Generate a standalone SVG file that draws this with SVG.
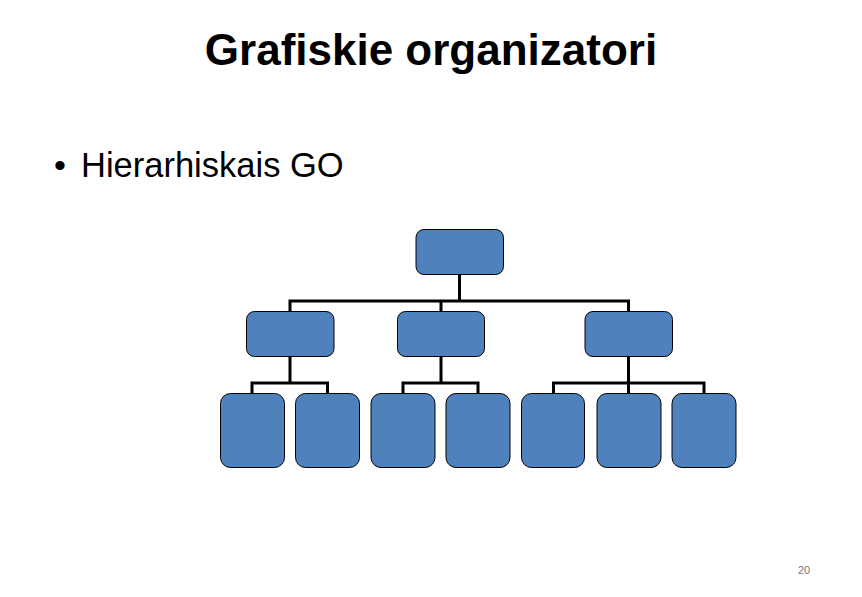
<svg xmlns="http://www.w3.org/2000/svg" width="862" height="597" viewBox="0 0 862 597">
<style>
.n{fill:#4F81BD;stroke:#000;stroke-width:1}
.c{fill:none;stroke:#000;stroke-width:3;stroke-linecap:square}
.t{font-family:"Liberation Sans",Arial,sans-serif;fill:#000}
</style>
<rect width="862" height="597" fill="#fff"/>
<text class="t" x="431" y="65" font-size="44" font-weight="bold" text-anchor="middle">Grafiskie organizatori</text>
<text class="t" x="54" y="177" font-size="34">•</text>
<text class="t" x="81" y="177" font-size="34.5">Hierarhiskais GO</text>
<text x="804" y="574" font-family="'Liberation Sans',Arial,sans-serif" font-size="11" fill="#777" text-anchor="middle">20</text>
<g id="connectors">
<path class="c" d="M459.5 274V301M290 312V301H628.5V312M441 301V312"/>
<path class="c" d="M290 356V383M252 394V383H327.5V394"/>
<path class="c" d="M441 356V383M403 394V383H478V394"/>
<path class="c" d="M628.5 356V394M553.5 394V383H704V394"/>
</g>
<g id="top"><rect class="n" x="416" y="229.5" width="87.5" height="45" rx="8"/></g>
<g id="m1"><rect class="n" x="246.5" y="311.5" width="87.5" height="45" rx="8"/></g>
<g id="m2"><rect class="n" x="397.5" y="311.5" width="87" height="45" rx="8"/></g>
<g id="m3"><rect class="n" x="585" y="311.5" width="87.5" height="45" rx="8"/></g>
<g id="c1"><rect class="n" x="220.5" y="393.5" width="64" height="74" rx="10"/></g>
<g id="c2"><rect class="n" x="295.5" y="393.5" width="64" height="74" rx="10"/></g>
<g id="c3"><rect class="n" x="371" y="393.5" width="64" height="74" rx="10"/></g>
<g id="c4"><rect class="n" x="446" y="393.5" width="64" height="74" rx="10"/></g>
<g id="c5"><rect class="n" x="521.5" y="393.5" width="63" height="74" rx="10"/></g>
<g id="c6"><rect class="n" x="597" y="393.5" width="64" height="74" rx="10"/></g>
<g id="c7"><rect class="n" x="672" y="393.5" width="64" height="74" rx="10"/></g>
</svg>
